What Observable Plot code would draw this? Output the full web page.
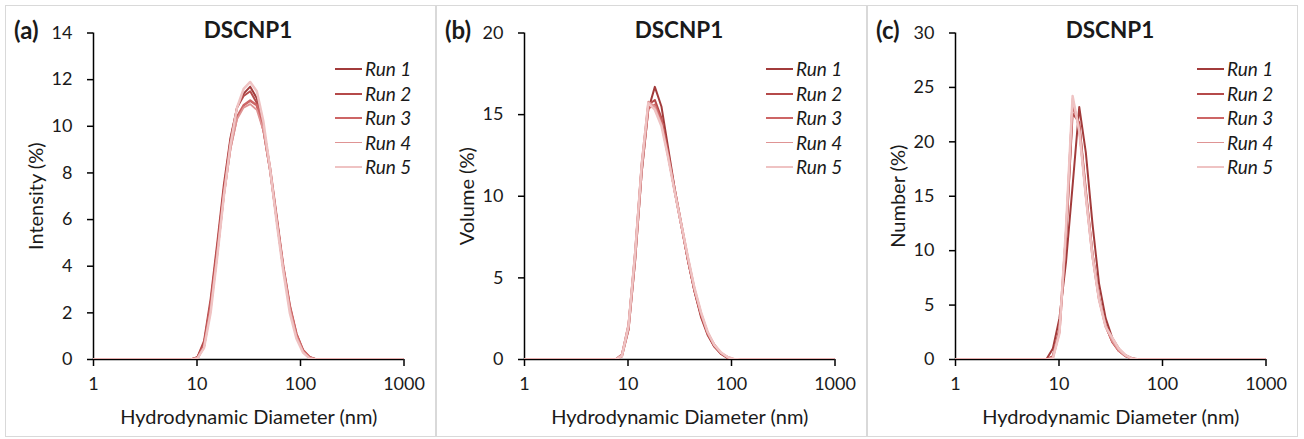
<!DOCTYPE html>
<html>
<head>
<meta charset="utf-8">
<script src="https://cdn.jsdelivr.net/npm/d3@7"></script>
<script src="https://cdn.jsdelivr.net/npm/@observablehq/plot@0.6"></script>
<style>
  html, body { margin: 0; padding: 0; background: #fff; }
  body { width: 1304px; height: 439px; position: relative; overflow: hidden; font-family: Lato, "Open Sans", sans-serif; color: #1a1a1a; }
  .panel { position: absolute; top: 5px; width: 431px; height: 431px; }
  .frame { position: absolute; left: 0; top: 0; width: 431px; height: 432px; box-sizing: border-box; border: 1px solid #d9d9d9; }
  .panel svg { position: absolute; left: 0; top: 0; }
  .tag { position: absolute; left: 9px; top: 11px; font-weight: 700; font-size: 24px; line-height: 28px; }
  .title { position: absolute; left: 143px; width: 200px; top: 12px; text-align: center; font-weight: 700; font-size: 22.5px; line-height: 26px; }
  .legend { position: absolute; left: 330px; top: 52px; }
  .row { position: relative; height: 24.5px; }
  .row .sw { position: absolute; left: 0; width: 27px; top: 12px; }
  .row .lab { position: absolute; left: 30px; top: 0; font-style: italic; font-size: 19px; line-height: 24px; white-space: nowrap; }
</style>
</head>
<body>
<script>
// Hydrodynamic diameter bins (nm)
const sizes = [0.9649, 1.117, 1.294, 1.499, 1.736, 2.010, 2.328, 2.696, 3.122, 3.615,
  4.187, 4.849, 5.615, 6.503, 7.531, 8.721, 10.10, 11.70, 13.54, 15.69,
  18.17, 21.04, 24.36, 28.21, 32.67, 37.84, 43.82, 50.75, 58.77, 68.06,
  78.82, 91.28, 105.7, 122.4, 141.8, 164.2, 190.1, 220.2, 255.0, 295.3,
  342.0, 396.1, 458.7, 531.2, 615.1, 712.4, 825.0, 955.4, 1106];

const runs = ["Run 1", "Run 2", "Run 3", "Run 4", "Run 5"];
const runColors = ["#a23b3b", "#b54a4a", "#cd6565", "#df9494", "#efc3c3"];
const runWidths = [2, 2, 2.5, 1.75, 2.5];

// (a) Intensity (%)
const intensityRun1 = [0,0,0,0,0,0,0,0,0,0, 0,0,0,0,0,0,0.1,0.7,2.4,4.8, 7.3,9.4,10.8,11.4,11.7,11.2,10.0,8.2,6.1,4.0, 2.3,1.1,0.4,0.1,0,0,0,0,0,0, 0,0,0,0,0,0,0,0,0];
const intensityRun2 = [0,0,0,0,0,0,0,0,0,0, 0,0,0,0,0,0,0.1,0.8,2.6,5.0, 7.5,9.5,10.8,11.3,11.5,11.0,9.8,8.1,6.0,3.9, 2.2,1.0,0.4,0.1,0,0,0,0,0,0, 0,0,0,0,0,0,0,0,0];
const intensityRun3 = [0,0,0,0,0,0,0,0,0,0, 0,0,0,0,0,0,0.05,0.6,2.3,4.6, 7.1,9.1,10.4,10.9,11.1,10.9,9.9,8.2,6.1,4.0, 2.3,1.1,0.4,0.1,0,0,0,0,0,0, 0,0,0,0,0,0,0,0,0];
const intensityRun4 = [0,0,0,0,0,0,0,0,0,0, 0,0,0,0,0,0,0.05,0.5,2.1,4.5, 7.0,9.0,10.3,10.8,10.95,10.7,9.8,8.1,6.0,4.0, 2.2,1.0,0.35,0.05,0,0,0,0,0,0, 0,0,0,0,0,0,0,0,0];
const intensityRun5 = [0,0,0,0,0,0,0,0,0,0, 0,0,0,0,0,0,0.05,0.5,2.0,4.4, 7.0,9.2,10.8,11.6,11.9,11.5,10.2,8.2,5.9,3.8, 2.0,0.9,0.3,0.05,0,0,0,0,0,0, 0,0,0,0,0,0,0,0,0];

// (b) Volume (%)
const volumeRun1 = [0,0,0,0,0,0,0,0,0,0, 0,0,0,0,0,0.2,1.8,6.0,11.4,15.3, 16.7,15.5,13.0,10.5,8.3,6.1,4.2,2.6,1.5,0.8, 0.35,0.1,0,0,0,0,0,0,0,0, 0,0,0,0,0,0,0,0,0];
const volumeRun2 = [0,0,0,0,0,0,0,0,0,0, 0,0,0,0,0,0.3,2.1,6.5,11.9,15.6, 15.9,14.8,12.6,10.3,8.2,6.1,4.2,2.7,1.6,0.8, 0.4,0.1,0,0,0,0,0,0,0,0, 0,0,0,0,0,0,0,0,0];
const volumeRun3 = [0,0,0,0,0,0,0,0,0,0, 0,0,0,0,0,0.2,1.9,6.2,11.6,15.4, 15.6,14.6,12.6,10.4,8.3,6.2,4.3,2.8,1.6,0.9, 0.4,0.15,0,0,0,0,0,0,0,0, 0,0,0,0,0,0,0,0,0];
const volumeRun4 = [0,0,0,0,0,0,0,0,0,0, 0,0,0,0,0,0.3,2.2,6.7,12.1,15.8, 15.5,14.4,12.4,10.3,8.2,6.2,4.3,2.8,1.7,0.9, 0.4,0.15,0,0,0,0,0,0,0,0, 0,0,0,0,0,0,0,0,0];
const volumeRun5 = [0,0,0,0,0,0,0,0,0,0, 0,0,0,0,0,0.2,2.0,6.4,11.8,15.7, 15.3,14.3,12.4,10.3,8.3,6.3,4.4,2.9,1.7,0.9, 0.45,0.15,0.03,0,0,0,0,0,0,0, 0,0,0,0,0,0,0,0,0];

// (c) Number (%)
const numberRun1 = [0,0,0,0,0,0,0,0,0,0, 0,0,0,0,0,1.0,3.8,9.0,16.0,23.2, 19.0,12.5,7.0,3.8,2.0,1.0,0.4,0.1,0,0, 0,0,0,0,0,0,0,0,0,0, 0,0,0,0,0,0,0,0,0];
const numberRun2 = [0,0,0,0,0,0,0,0,0,0, 0,0,0,0,0,0.3,2.8,11.0,22.6,21.8, 15.6,9.8,5.7,3.1,1.6,0.8,0.3,0.1,0,0, 0,0,0,0,0,0,0,0,0,0, 0,0,0,0,0,0,0,0,0];
const numberRun3 = [0,0,0,0,0,0,0,0,0,0, 0,0,0,0,0,0.2,2.6,11.5,23.5,21.4, 15.2,9.6,5.6,3.1,1.7,0.8,0.35,0.1,0,0, 0,0,0,0,0,0,0,0,0,0, 0,0,0,0,0,0,0,0,0];
const numberRun4 = [0,0,0,0,0,0,0,0,0,0, 0,0,0,0,0,0.2,2.5,12.0,24.0,21.0, 15.0,9.5,5.5,3.0,1.7,0.8,0.35,0.1,0,0, 0,0,0,0,0,0,0,0,0,0, 0,0,0,0,0,0,0,0,0];
const numberRun5 = [0,0,0,0,0,0,0,0,0,0, 0,0,0,0,0,0.1,2.4,12.2,24.2,21.0, 15.0,9.5,5.5,3.0,2.0,1.0,0.4,0.1,0,0, 0,0,0,0,0,0,0,0,0,0, 0,0,0,0,0,0,0,0,0];

const xTicks = [1, 10, 100, 1000];
const xTitle = "Hydrodynamic Diameter (nm)";
const sampleTitle = "DSCNP1";

const panelTags = ["(a)", "(b)", "(c)"];
const panelYTitles = ["Intensity (%)", "Volume (%)", "Number (%)"];
const panelYMax = [14, 20, 30];
const panelYTicks = [[0, 2, 4, 6, 8, 10, 12, 14], [0, 5, 10, 15, 20], [0, 5, 10, 15, 20, 25, 30]];
const panelSeries = [
  [intensityRun1, intensityRun2, intensityRun3, intensityRun4, intensityRun5],
  [volumeRun1, volumeRun2, volumeRun3, volumeRun4, volumeRun5],
  [numberRun1, numberRun2, numberRun3, numberRun4, numberRun5]
];
const panelLefts = [5, 436, 867];

panelTags.forEach((tag, p) => {
  const panel = document.createElement("div");
  panel.className = "panel";
  panel.style.left = panelLefts[p] + "px";
  document.body.appendChild(panel);

  const frame = document.createElement("div");
  frame.className = "frame";
  panel.appendChild(frame);

  const data = [];
  panelSeries[p].forEach((vals, r) => {
    vals.forEach((v, i) => data.push({run: runs[r], size: sizes[i], value: v}));
  });

  const lineMarks = runs.map((run, r) =>
    Plot.line(data.filter(d => d.run === run), {
      x: "size", y: "value", stroke: runColors[r], strokeWidth: runWidths[r],
      clip: true, strokeLinejoin: "round"
    })
  );

  const chart = Plot.plot({
    width: 431, height: 431,
    marginLeft: 88, marginRight: 32.5, marginTop: 27.5, marginBottom: 77,
    x: {type: "log", domain: [1, 1000]},
    y: {domain: [0, panelYMax[p]]},
    style: {fontFamily: "Lato, 'Open Sans', sans-serif", background: "transparent", color: "#1a1a1a", overflow: "visible"},
    marks: [
      Plot.axisY({ticks: panelYTicks[p], tickSize: 6, tickPadding: 15, fontSize: 18, label: null, stroke: "#000", strokeWidth: 1.5, tickFormat: d => String(d)}),
      Plot.axisX({ticks: xTicks, tickSize: 7, tickPadding: 11, fontSize: 18, label: null, stroke: "#000", strokeWidth: 1.5, tickFormat: d => String(d)}),
      Plot.ruleX([1], {y1: 0, y2: panelYMax[p], stroke: "#000", strokeWidth: 1.5}),
      Plot.ruleY([0], {stroke: "#000", strokeWidth: 1.5}),
      ...lineMarks,
      Plot.text([xTitle], {frameAnchor: "bottom", dy: 58, fontSize: 20, lineAnchor: "middle", textAnchor: "middle", fill: "#1a1a1a"}),
      Plot.text([panelYTitles[p]], {frameAnchor: "left", dx: -57, rotate: -90, fontSize: 20, lineAnchor: "middle", textAnchor: "middle", fill: "#1a1a1a"})
    ]
  });
  panel.appendChild(chart);

  const tagEl = document.createElement("div");
  tagEl.className = "tag";
  tagEl.textContent = tag;
  panel.appendChild(tagEl);

  const titleEl = document.createElement("div");
  titleEl.className = "title";
  titleEl.textContent = sampleTitle;
  panel.appendChild(titleEl);

  const legend = document.createElement("div");
  legend.className = "legend";
  runs.forEach((run, r) => {
    const row = document.createElement("div");
    row.className = "row";
    const sw = document.createElement("div");
    sw.className = "sw";
    sw.style.height = runWidths[r] + "px";
    sw.style.marginTop = (-runWidths[r] / 2) + "px";
    sw.style.background = runColors[r];
    const lab = document.createElement("div");
    lab.className = "lab";
    lab.textContent = run;
    row.appendChild(sw);
    row.appendChild(lab);
    legend.appendChild(row);
  });
  panel.appendChild(legend);
});
</script>
</body>
</html>
